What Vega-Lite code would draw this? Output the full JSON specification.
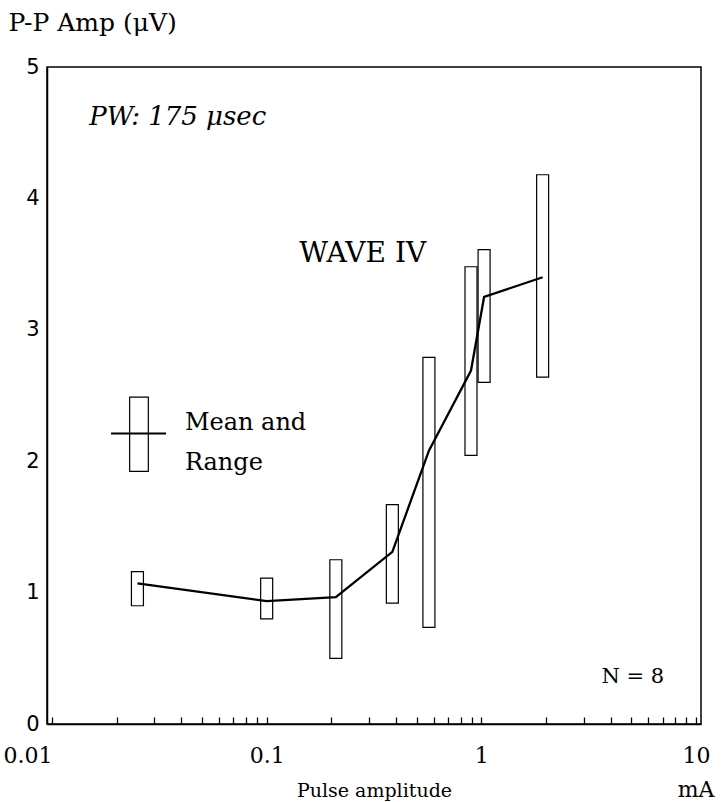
{
  "$schema": "https://vega.github.io/schema/vega-lite/v6.json",
  "width": 654,
  "height": 657,
  "autosize": {"type": "none"},
  "padding": {"left": 47, "top": 67, "right": 23, "bottom": 78},
  "background": "white",
  "config": {
    "view": {"stroke": "black", "strokeWidth": 1.5},
    "axis": {"domainColor": "black", "domainWidth": 1.5, "tickColor": "black", "labelColor": "black", "titleColor": "black", "grid": false}
  },
  "datasets": {
    "wave": [
      {"current": 0.025, "mean": 1.07, "lo": 0.90, "hi": 1.16},
      {"current": 0.1, "mean": 0.935, "lo": 0.80, "hi": 1.11},
      {"current": 0.21, "mean": 0.965, "lo": 0.50, "hi": 1.25},
      {"current": 0.385, "mean": 1.31, "lo": 0.92, "hi": 1.67},
      {"current": 0.57, "mean": 2.08, "lo": 0.735, "hi": 2.79},
      {"current": 0.895, "mean": 2.69, "lo": 2.045, "hi": 3.48},
      {"current": 1.03, "mean": 3.25, "lo": 2.60, "hi": 3.61},
      {"current": 1.93, "mean": 3.40, "lo": 2.64, "hi": 4.18}
    ],
    "key": [
      {"boxL": 0.023, "boxR": 0.0281, "lo": 1.923, "hi": 2.487, "lineL": 0.01884, "lineR": 0.034, "mean": 2.21}
    ]
  },
  "layer": [
    {
      "data": {"name": "wave"},
      "mark": {"type": "bar", "size": 12, "fill": "white", "fillOpacity": 0, "stroke": "black", "strokeWidth": 1.2},
      "encoding": {
        "x": {
          "field": "current", "type": "quantitative",
          "scale": {"type": "log", "domain": [0.01, 10], "nice": false},
          "axis": {
            "values": [0.01, 0.02, 0.03, 0.04, 0.05, 0.06, 0.07, 0.08, 0.09, 0.1, 0.2, 0.3, 0.4, 0.5, 0.6, 0.7, 0.8, 0.9, 1, 2, 3, 4, 5, 6, 7, 8, 9, 10],
            "format": "~g",
            "labelExpr": "abs(log(datum.value)/LN10 - round(log(datum.value)/LN10)) < 0.001 ? datum.label : ''",
            "labelAlign": {"expr": "datum.value < 0.011 ? 'right' : 'center'"},
            "tickSize": -7, "tickWidth": 1.3,
            "labelPadding": 28,
            "labelFont": "DejaVu Serif", "labelFontSize": 22,
            "labelFlush": false,
            "labelOverlap": false,
            "title": "Pulse amplitude",
            "titleFont": "DejaVu Serif", "titleFontSize": 19, "titleFontWeight": "normal",
            "titleY": 66, "titleBaseline": "middle"
          }
        },
        "y": {
          "field": "lo", "type": "quantitative",
          "scale": {"domain": [0, 5], "nice": false, "zero": true},
          "axis": {
            "values": [0, 1, 2, 3, 4, 5],
            "format": "d",
            "ticks": false,
            "labelPadding": 8,
            "labelFont": "DejaVu Sans", "labelFontSize": 21,
            "title": "P-P Amp (μV)",
            "titleFont": "DejaVu Serif", "titleFontSize": 25, "titleFontWeight": "normal",
            "titleAngle": 0, "titleAlign": "left", "titleBaseline": "middle",
            "titleX": -39, "titleY": -45
          }
        },
        "y2": {"field": "hi"}
      }
    },
    {
      "data": {"name": "wave"},
      "mark": {"type": "line", "color": "black", "strokeWidth": 2.3},
      "encoding": {
        "x": {"field": "current", "type": "quantitative"},
        "y": {"field": "mean", "type": "quantitative"}
      }
    },
    {
      "data": {"name": "key"},
      "mark": {"type": "rect", "fill": "white", "fillOpacity": 0, "stroke": "black", "strokeWidth": 1.2},
      "encoding": {
        "x": {"field": "boxL", "type": "quantitative"},
        "x2": {"field": "boxR"},
        "y": {"field": "lo", "type": "quantitative"},
        "y2": {"field": "hi"}
      }
    },
    {
      "data": {"name": "key"},
      "mark": {"type": "rule", "color": "black", "strokeWidth": 2},
      "encoding": {
        "x": {"field": "lineL", "type": "quantitative"},
        "x2": {"field": "lineR"},
        "y": {"field": "mean", "type": "quantitative"}
      }
    },
    {
      "data": {"values": [
        {"text": "Mean and", "x": 0.0416, "y": 2.29},
        {"text": "Range", "x": 0.0416, "y": 1.99}
      ]},
      "mark": {"type": "text", "align": "left", "baseline": "middle", "font": "DejaVu Serif", "fontSize": 24, "color": "black"},
      "encoding": {
        "x": {"field": "x", "type": "quantitative"},
        "y": {"field": "y", "type": "quantitative"},
        "text": {"field": "text"}
      }
    },
    {
      "data": {"values": [{"text": "N = 8", "x": 3.63, "y": 0.354}]},
      "mark": {"type": "text", "align": "left", "baseline": "middle", "font": "DejaVu Serif", "fontSize": 21, "color": "black"},
      "encoding": {
        "x": {"field": "x", "type": "quantitative"},
        "y": {"field": "y", "type": "quantitative"},
        "text": {"field": "text"}
      }
    },
    {
      "data": {"values": [{"text": "WAVE IV", "x": 0.1417, "y": 3.58}]},
      "mark": {"type": "text", "align": "left", "baseline": "middle", "font": "DejaVu Serif", "fontSize": 28, "color": "black"},
      "encoding": {
        "x": {"field": "x", "type": "quantitative"},
        "y": {"field": "y", "type": "quantitative"},
        "text": {"field": "text"}
      }
    },
    {
      "data": {"values": [{"text": "PW: 175 μsec", "x": 0.0149, "y": 4.62}]},
      "mark": {"type": "text", "align": "left", "baseline": "middle", "font": "DejaVu Serif", "fontStyle": "italic", "fontSize": 26, "color": "black"},
      "encoding": {
        "x": {"field": "x", "type": "quantitative"},
        "y": {"field": "y", "type": "quantitative"},
        "text": {"field": "text"}
      }
    },
    {
      "data": {"values": [{"text": "mA", "x": 10, "y": -0.506}]},
      "mark": {"type": "text", "align": "center", "baseline": "middle", "font": "DejaVu Serif", "fontSize": 22, "color": "black"},
      "encoding": {
        "x": {"field": "x", "type": "quantitative"},
        "y": {"field": "y", "type": "quantitative"},
        "text": {"field": "text"}
      }
    }
  ]
}
